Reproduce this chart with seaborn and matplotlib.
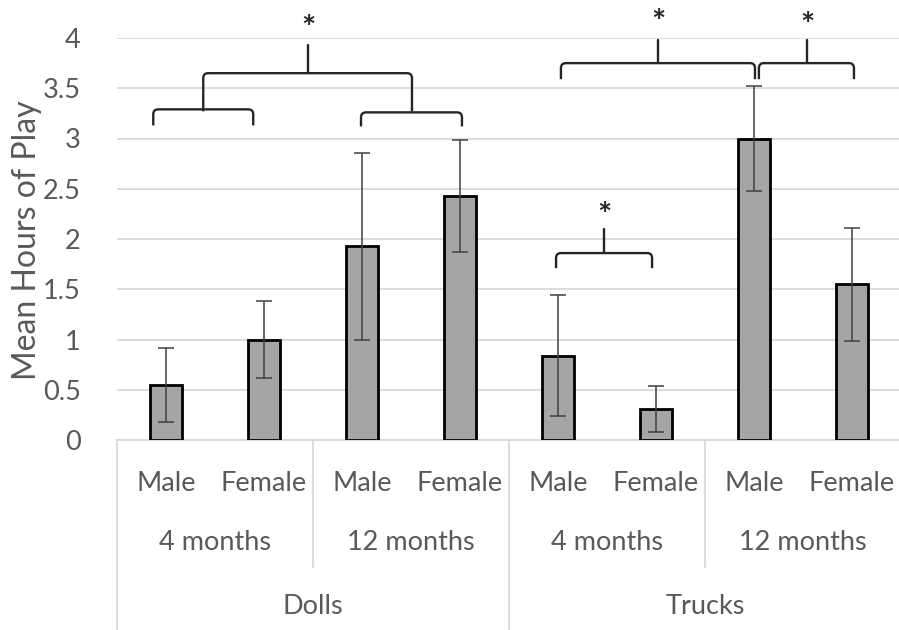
import pandas as pd
import numpy as np
import matplotlib.pyplot as plt
from matplotlib.path import Path
from matplotlib.patches import PathPatch
import seaborn as sns

# --- data ---
toys = ['Dolls', 'Dolls', 'Dolls', 'Dolls', 'Trucks', 'Trucks', 'Trucks', 'Trucks']
ages = ['4 months', '4 months', '12 months', '12 months', '4 months', '4 months', '12 months', '12 months']
sexes = ['Male', 'Female', 'Male', 'Female', 'Male', 'Female', 'Male', 'Female']
mean_hours = [0.55, 1.00, 1.93, 2.43, 0.84, 0.31, 3.00, 1.55]
err_hours = [0.37, 0.38, 0.93, 0.56, 0.60, 0.23, 0.52, 0.56]
ytick_values = [0, 0.5, 1, 1.5, 2, 2.5, 3, 3.5, 4]
ytick_labels = ['0', '0.5', '1', '1.5', '2', '2.5', '3', '3.5', '4']

# significance brackets: (x0, x1, y, y_end, tick_x, tick_top, star_y)
brackets = [
    (-0.13, 0.89, 3.29, 3.13, None, None, None),
    (1.99, 3.02, 3.26, 3.12, None, None, None),
    (0.38, 2.51, 3.65, 3.27, 1.45, 3.93, 4.17),
    (3.98, 4.96, 1.86, 1.71, 4.47, 2.10, 2.31),
    (4.03, 6.01, 3.75, 3.59, 5.02, 3.98, 4.23),
    (6.05, 7.02, 3.75, 3.59, 6.54, 3.98, 4.20),
]

df = pd.DataFrame({'toy': toys, 'age': ages, 'sex': sexes,
                   'mean': mean_hours, 'err': err_hours})
df['group'] = df['toy'] + ' ' + df['age'] + ' ' + df['sex']

sns.set_style('white')
plt.rcParams['font.family'] = ['Lato', 'DejaVu Sans']
grey_text = '#595959'
line_col = '#262626'
cat_size = 19.5

fig = plt.figure(figsize=(8.99, 6.3), dpi=100)
ax = fig.add_axes([117 / 899, 190 / 630, 784 / 899, 402 / 630])

sns.barplot(data=df, x='group', y='mean', color='#a5a5a5', saturation=1,
            edgecolor='black', linewidth=2, width=0.33, errorbar=None, ax=ax, zorder=3)
ax.errorbar(np.arange(len(df)), df['mean'], yerr=df['err'], fmt='none',
            ecolor='#404040', elinewidth=1.1, capsize=6, capthick=1.1, zorder=4)

ax.set_xlim(-0.5, len(df) - 0.5)
ax.set_ylim(0, 4)
ax.set_yticks(ytick_values)
ax.set_yticklabels(ytick_labels)
ax.tick_params(axis='y', length=0, pad=26, labelsize=19.5, labelcolor=grey_text)
ax.set_xticks([])
ax.set_xlabel('')
ax.set_ylabel('')
ax.yaxis.grid(True, color='#d9d9d9', linewidth=1.3, zorder=0)
ax.set_axisbelow(True)
for s in ['top', 'right', 'left']:
    ax.spines[s].set_visible(False)
ax.spines['bottom'].set_color('#d9d9d9')
ax.spines['bottom'].set_linewidth(1.3)

fig.text(27 / 899, 0.619, 'Mean Hours of Play', rotation=90, ha='center', va='center',
         fontsize=23, color=grey_text)

# multi-level category axis
tr = ax.get_xaxis_transform()
for i, s in enumerate(sexes):
    ax.text(i, -0.107, s, transform=tr, ha='center', va='center', fontsize=cat_size, color=grey_text)
age_groups = df.groupby(['toy', 'age'], sort=False).apply(lambda g: g.index.values.mean(), include_groups=False)
for (toy, age), xc in age_groups.items():
    ax.text(xc, -0.256, age, transform=tr, ha='center', va='center', fontsize=cat_size, color=grey_text)
toy_groups = df.groupby('toy', sort=False).apply(lambda g: g.index.values.mean(), include_groups=False)
for toy, xc in toy_groups.items():
    ax.text(xc, -0.415, toy, transform=tr, ha='center', va='center', fontsize=cat_size, color=grey_text)
for xb in [1.5, 5.5]:
    ax.plot([xb, xb], [0, -0.316], transform=tr, color='#d9d9d9', lw=1.3, clip_on=False)
for xb in [-0.5, 3.5]:
    ax.plot([xb, xb], [0, -0.48], transform=tr, color='#d9d9d9', lw=1.3, clip_on=False)

# significance brackets with rounded corners
rx, ry = 0.05, 0.05
for x0, x1, y, y_end, tx, ttop, sy in brackets:
    verts = [(x0, y_end), (x0, y - ry), (x0, y), (x0 + rx, y),
             (x1 - rx, y), (x1, y), (x1, y - ry), (x1, y_end)]
    codes = [Path.MOVETO, Path.LINETO, Path.CURVE3, Path.CURVE3,
             Path.LINETO, Path.CURVE3, Path.CURVE3, Path.LINETO]
    ax.add_patch(PathPatch(Path(verts, codes), fill=False, edgecolor=line_col,
                           lw=1.7, clip_on=False, zorder=5))
    if tx is not None:
        ax.plot([tx, tx], [y, ttop], color=line_col, lw=1.7, clip_on=False, zorder=5)
        ax.annotate('*', (tx, sy), xytext=(0, -13), textcoords='offset points',
                    ha='center', va='baseline', fontsize=24, fontweight='bold',
                    color=line_col, annotation_clip=False)

plt.savefig('out.png', dpi=100)
print("Generated out.png")
